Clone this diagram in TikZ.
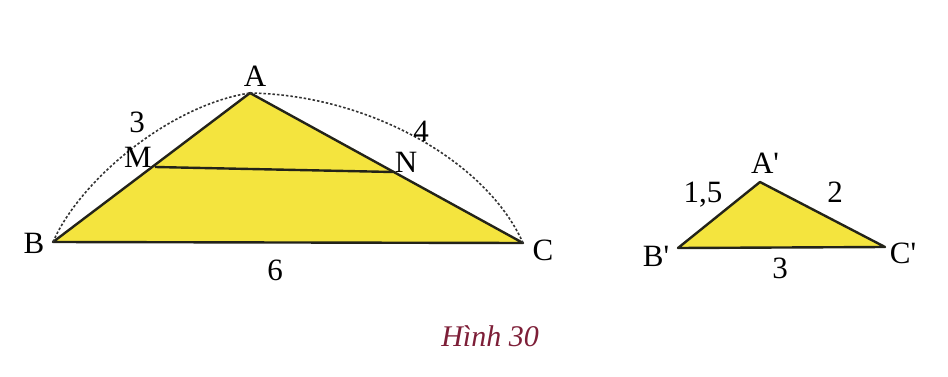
\documentclass[tikz,border=0pt]{standalone}
\usepackage{fontspec}
\setmainfont{Liberation Serif}
\definecolor{fillyel}{RGB}{244,228,62}
\definecolor{edgec}{RGB}{35,35,25}
\definecolor{capred}{RGB}{125,30,55}
\newcommand{\pr}{\textquotesingle}
\begin{document}
\begin{tikzpicture}[x=1pt,y=-1pt,
  tri/.style={fill=fillyel,draw=edgec,line width=2.4pt,line join=round},
  seg/.style={draw=edgec,line width=2.4pt},
  arcd/.style={draw=black!80,line width=1.6pt,dash pattern=on 2.5pt off 2pt},
  lab/.style={font=\fontsize{31}{33}\selectfont,inner sep=0pt},
  captext/.style={font=\fontsize{30}{33}\selectfont\itshape,text=capred,inner sep=0pt}]
\useasboundingbox (0,0) rectangle (948,377);
\coordinate (A) at (250,93);
\coordinate (B) at (53,242);
\coordinate (C) at (523,243);
\coordinate (M) at (155,167);
\coordinate (N) at (393,172);
\coordinate (A1) at (760,182);
\coordinate (B1) at (678,248);
\coordinate (C1) at (885,247);
\draw[tri] (A) -- (B) -- (C) -- cycle;
\draw[seg] (M) -- (N);
\draw[arcd] (B) .. controls (80,180) and (170,105) .. (A);
\draw[arcd] (A) .. controls (370,95) and (487,162) .. (C);
\draw[tri] (A1) -- (B1) -- (C1) -- cycle;
\node[lab] (lA) at (255,76) {A};
\node[lab] (lB) at (34,243) {B};
\node[lab] (lC) at (543,250) {C};
\node[lab] (lM) at (138,157) {M};
\node[lab] (lN) at (406,162) {N};
\node[lab] (l3) at (137,122) {3};
\node[lab] (l4) at (421,131) {4};
\node[lab] (l6) at (275,270) {6};
\node[lab] (lA1) at (765,163) {A\pr};
\node[lab] (lB1) at (656,256) {B\pr};
\node[lab] (lC1) at (903,253) {C\pr};
\node[lab] (l15) at (703,195) {1,5};
\node[lab] (l2) at (835,192) {2};
\node[lab] (l3b) at (780,268) {3};
\node[captext] (hinh) at (490,336) {Hình 30};
\end{tikzpicture}
\end{document}
